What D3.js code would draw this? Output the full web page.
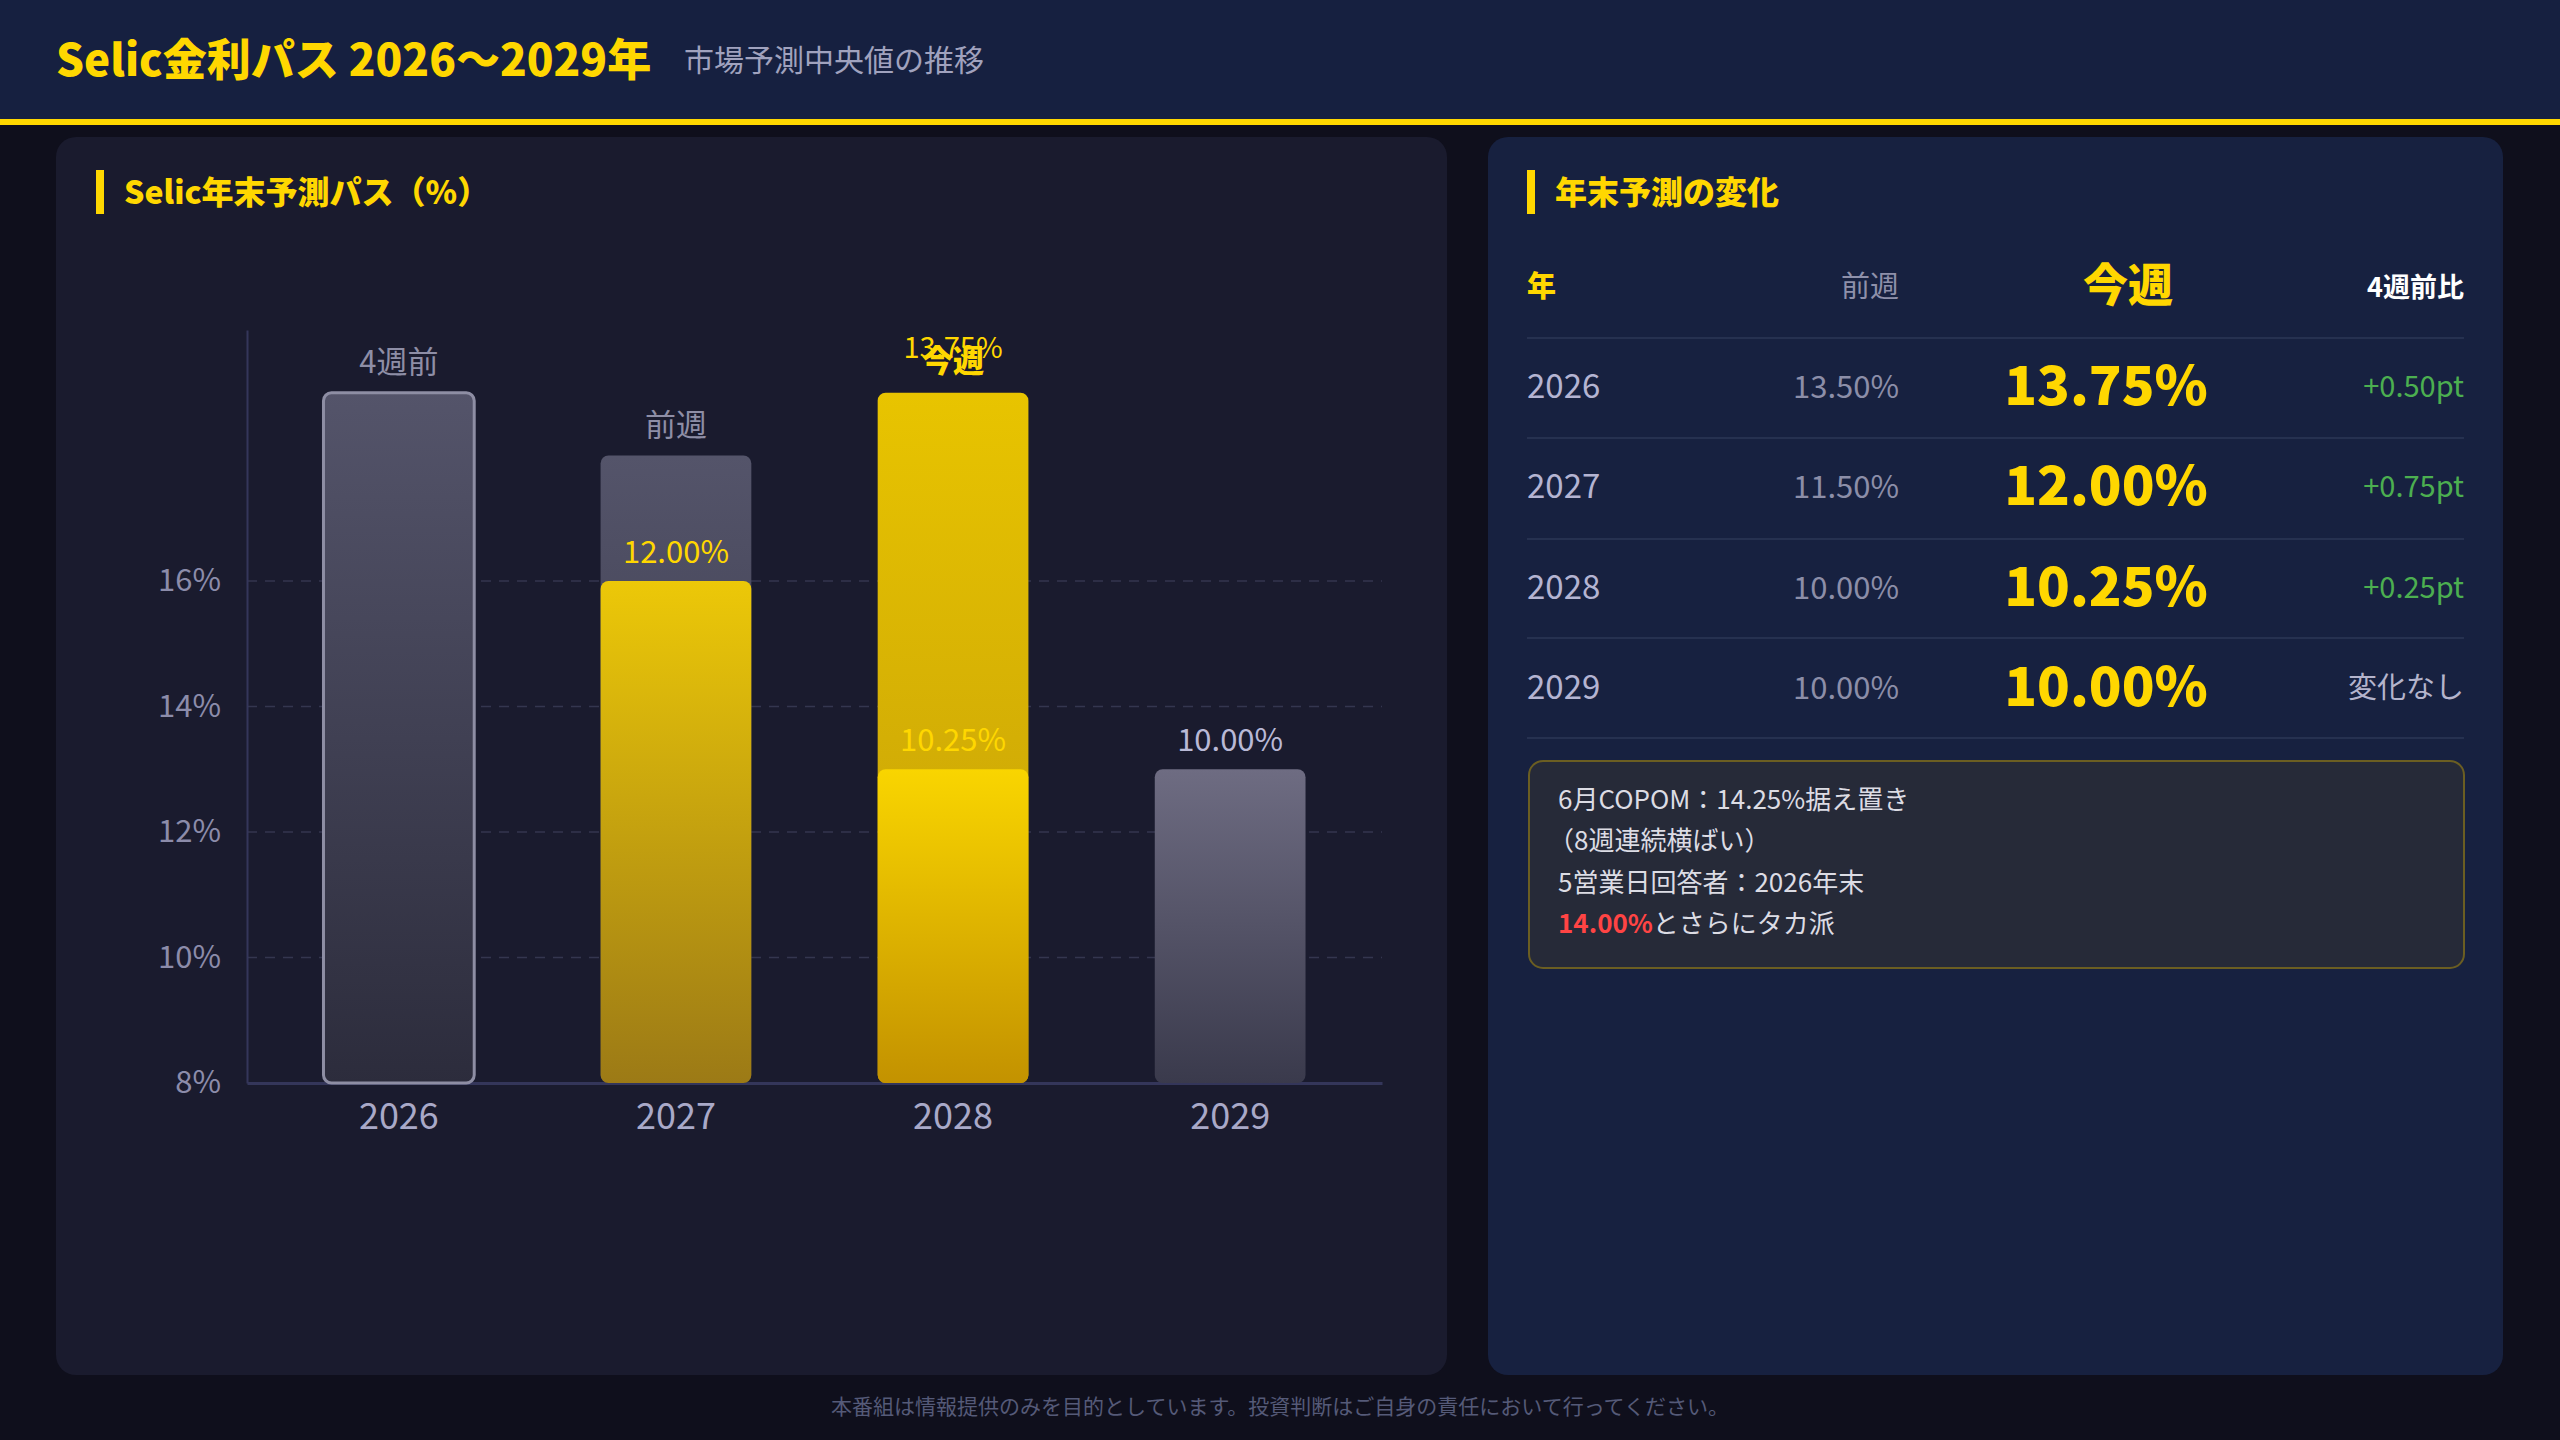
<!DOCTYPE html>
<html><head><meta charset="utf-8">
<script src="https://cdn.jsdelivr.net/npm/d3@7"></script>
<style>
body{margin:0;background:#0f0f1c;font-family:"Noto Sans CJK JP","Noto Sans",sans-serif;}
</style></head><body>
<svg id="c" width="2560" height="1440"></svg>
<script>
// ---- data ----
const years = ["2026","2027","2028","2029"];
// bar heights as drawn on the chart's axis (percent axis units)
const backBarTop = [19.0, 18.0, 19.0, 13.0];
const backBarKind = ["outline","grey","yellowTall","grey2"];
const frontBarTop = [null, 16.0, 13.0, null];
const backLabels = ["4週前","前週","13.75%","10.00%"];
const frontLabels = [null,"12.00%","10.25%",null];
const yTicks = [8,10,12,14,16];
const tableYears = ["2026","2027","2028","2029"];
const prevWeek = ["13.50%","11.50%","10.00%","10.00%"];
const thisWeek = ["13.75%","12.00%","10.25%","10.00%"];
const change4w = ["+0.50pt","+0.75pt","+0.25pt","変化なし"];

const svg = d3.select("#c");
const defs = svg.append("defs");
function grad(id,c1,c2){const g=defs.append("linearGradient").attr("id",id).attr("x1",0).attr("y1",0).attr("x2",0).attr("y2",1);
 g.append("stop").attr("offset","0%").attr("stop-color",c1);g.append("stop").attr("offset","100%").attr("stop-color",c2);}
grad("gOutline","#54546a","#2c2c3c");
grad("gGrey","#54546a","#30303f");
grad("gGrey2","#6e6c82","#3a3a4c");
grad("gYellow","#ecc808","#9c7a16");
grad("gYellowTall","#e8c400","#c09a0a");
grad("gYellowFront","#f9d500","#c39200");

// header
svg.append("rect").attr("x",0).attr("y",0).attr("width",2560).attr("height",120).attr("fill","#162040");
svg.append("rect").attr("x",0).attr("y",119).attr("width",2560).attr("height",6).attr("fill","#ffd700");
svg.append("text").attr("x",56).attr("y",76).attr("fill","#ffd700").attr("font-size",44).attr("font-weight",900).text("Selic金利パス 2026〜2029年");
svg.append("text").attr("x",684).attr("y",71).attr("fill","#a0a2be").attr("font-size",30).text("市場予測中央値の推移");

// panels
svg.append("rect").attr("x",56).attr("y",137).attr("width",1391).attr("height",1238).attr("rx",20).attr("fill","#1a1b2e");
svg.append("rect").attr("x",1488).attr("y",137).attr("width",1015).attr("height",1238).attr("rx",20).attr("fill","#172140");

function panelTitle(x,t){
 svg.append("rect").attr("x",x).attr("y",170).attr("width",8).attr("height",44).attr("fill","#ffd700");
 svg.append("text").attr("x",x+28).attr("y",204).attr("fill","#ffd700").attr("font-size",32).attr("font-weight",900).text(t);
}
panelTitle(96,"Selic年末予測パス（%）");
panelTitle(1527,"年末予測の変化");

// chart
const y = d3.scaleLinear().domain([8,20]).range([1083,330]);
const x = d3.scaleBand().domain(years).range([247,1382]).paddingInner(0.456).paddingOuter(0.276);
const g = svg.append("g");
yTicks.slice(1).forEach(t=>{
 g.append("line").attr("x1",247).attr("x2",1382).attr("y1",y(t)).attr("y2",y(t)).attr("stroke","#34364f").attr("stroke-width",1.5).attr("stroke-dasharray","10,8");
});
const yAxis = g.append("g").attr("transform","translate(247,0)").call(d3.axisLeft(y).tickValues(yTicks).tickFormat(d=>d+"%").tickSize(0).tickPadding(26));
yAxis.select(".domain").attr("stroke","#34365a").attr("stroke-width",2);
yAxis.selectAll("text").attr("fill","#8c8caa").attr("font-size",31).attr("font-family","Noto Sans CJK JP");
const xAxis = g.append("g").attr("transform","translate(0,1083)").call(d3.axisBottom(x).tickSize(0).tickPadding(20));
xAxis.select(".domain").attr("stroke","#34365a").attr("stroke-width",3);
xAxis.selectAll("text").attr("fill","#a9a9c8").attr("font-size",36).attr("font-family","Noto Sans CJK JP");

const fills={outline:"url(#gOutline)",grey:"url(#gGrey)",grey2:"url(#gGrey2)",yellowTall:"url(#gYellowTall)"};
years.forEach((yr,i)=>{
 const k=backBarKind[i];
 const r=g.append("rect").attr("x",x(yr)).attr("y",y(backBarTop[i])).attr("width",x.bandwidth()).attr("height",y(8)-y(backBarTop[i])).attr("rx",8).attr("fill",fills[k]);
 if(k==="outline") r.attr("stroke","#8e8ea4").attr("stroke-width",3);
 if(frontBarTop[i]!==null){
  g.append("rect").attr("x",x(yr)).attr("y",y(frontBarTop[i])).attr("width",x.bandwidth()).attr("height",y(8)-y(frontBarTop[i])).attr("rx",8)
   .attr("fill", i===1?"url(#gYellow)":"url(#gYellowFront)");
 }
});
const cx=yr=>x(yr)+x.bandwidth()/2;
const lblColor=["#8e8ea6","#8e8ea6","#ffd700","#b9b9d6"];
const lblY=[362+11,425+11,348+10,740+11];
years.forEach((yr,i)=>{
 g.append("text").attr("x",cx(yr)).attr("y",lblY[i]).attr("text-anchor","middle").attr("fill",lblColor[i]).attr("font-size",i===2?29:31).text(backLabels[i]);
 if(frontLabels[i]) g.append("text").attr("x",cx(yr)).attr("y",i===1?563:751).attr("text-anchor","middle").attr("fill","#ffd700").attr("font-size",31).text(frontLabels[i]);
});
g.append("text").attr("x",cx("2028")).attr("y",372).attr("text-anchor","middle").attr("fill","#ffd700").attr("font-size",31).attr("font-weight",900).text("今週");

// table
const T=svg.append("g");
T.append("text").attr("x",1527).attr("y",297).attr("fill","#ffd700").attr("font-size",29).attr("font-weight",900).text("年");
T.append("text").attr("x",1899).attr("y",297).attr("text-anchor","end").attr("fill","#8e90aa").attr("font-size",29).text("前週");
T.append("text").attr("x",2128).attr("y",302).attr("text-anchor","middle").attr("fill","#ffd700").attr("font-size",45).attr("font-weight",900).text("今週");
T.append("text").attr("x",2464).attr("y",297).attr("text-anchor","end").attr("fill","#ffffff").attr("font-size",27).attr("font-weight",700).text("4週前比");
const rowLines=[338,438,539,638,738];
rowLines.forEach(l=>T.append("line").attr("x1",1527).attr("x2",2464).attr("y1",l).attr("y2",l).attr("stroke","#263150").attr("stroke-width",2));
const rowY=[387,487,588,688];
tableYears.forEach((yr,i)=>{
 const yy=rowY[i]+11;
 T.append("text").attr("x",1527).attr("y",yy).attr("fill","#b4b4d2").attr("font-size",33).text(yr);
 T.append("text").attr("x",1899).attr("y",yy).attr("text-anchor","end").attr("fill","#8c8ea8").attr("font-size",31).text(prevWeek[i]);
 T.append("text").attr("x",2106).attr("y",yy+7).attr("text-anchor","middle").attr("fill","#ffd700").attr("font-size",54).attr("font-weight",900).text(thisWeek[i]);
 T.append("text").attr("x",2464).attr("y",yy-1).attr("text-anchor","end").attr("fill",change4w[i]==="変化なし"?"#b4b4cc":"#4caf50").attr("font-size",29).text(change4w[i]);
});
// note box
T.append("rect").attr("x",1529).attr("y",761).attr("width",935).attr("height",207).attr("rx",14).attr("fill","#262a38").attr("stroke","#6b5e22").attr("stroke-width",2);
const noteLines=["6月COPOM：14.25%据え置き","（8週連続横ばい）","5営業日回答者：2026年末"];
[800,841,883].forEach((ly,i)=>T.append("text").attr("x",i===1?1548:1558).attr("y",ly+9).attr("fill","#dcdce4").attr("font-size",26).text(noteLines[i]));
const last=T.append("text").attr("x",1558).attr("y",933).attr("font-size",26);
last.append("tspan").attr("fill","#ff4444").attr("font-weight",700).text("14.00%");
last.append("tspan").attr("fill","#dcdce4").text("とさらにタカ派");

// footer
svg.append("text").attr("x",1280).attr("y",1414).attr("text-anchor","middle").attr("fill","#555a78").attr("font-size",21).text("本番組は情報提供のみを目的としています。投資判断はご自身の責任において行ってください。");
</script></body></html>
